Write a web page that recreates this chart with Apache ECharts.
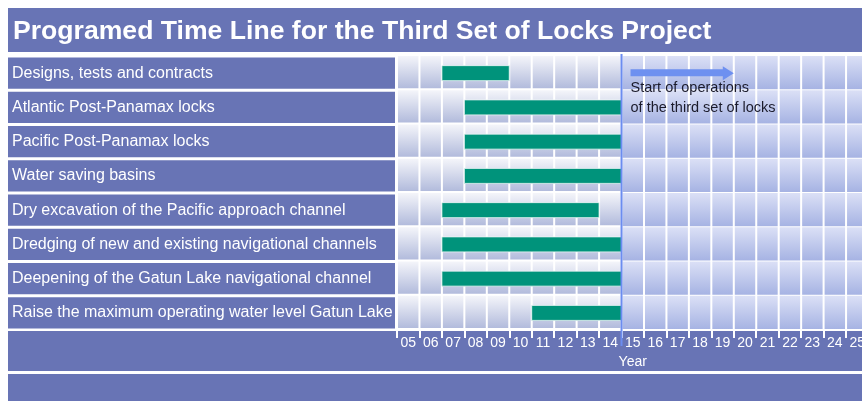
<!DOCTYPE html>
<html>
<head>
<meta charset="utf-8">
<script src="https://cdn.jsdelivr.net/npm/echarts@6.0.0/dist/echarts.min.js"></script>
<style>
html, body { margin: 0; padding: 0; background: #fff; }
#chart { width: 862px; height: 401px; }
</style>
</head>
<body>
<div id="chart"></div>
<script>
// Tasks and their programmed years (two-digit years, inclusive)
const tasks = [
    'Designs, tests and contracts',
    'Atlantic Post-Panamax locks',
    'Pacific Post-Panamax locks',
    'Water saving basins',
    'Dry excavation of the Pacific approach channel',
    'Dredging of new and existing navigational channels',
    'Deepening of the Gatun Lake navigational channel',
    'Raise the maximum operating water level Gatun Lake'
];
const years = ['05', '06', '07', '08', '09', '10', '11', '12', '13', '14', '15',
    '16', '17', '18', '19', '20', '21', '22', '23', '24', '25'];
const taskStart = ['07', '08', '08', '08', '07', '07', '07', '11'];
const taskEnd = ['09', '14', '14', '14', '13', '14', '14', '14'];

const opsStart = '15';
const arrowEnd = '20';
const note = ['Start of operations', 'of the third set of locks'];

const band = '#6874b5';
const font = 'Liberation Sans, Arial, sans-serif';
const opsIdx = years.indexOf(opsStart);

const chart = echarts.init(document.getElementById('chart'));

let cellData = [];
years.forEach((y, i) => tasks.forEach((t, j) => cellData.push([i, j])));
let barData = tasks.map((t, j) => [years.indexOf(taskStart[j]), years.indexOf(taskEnd[j]), j]);

function renderCell(params, api) {
    const c = api.coord([api.value(0), api.value(1)]);
    const s = api.size([1, 1]);
    const future = api.value(0) >= opsIdx;
    const gapY = future ? 1 : 2;
    const colors = future ? ['#dbe0f6', '#a6b3e3'] : ['#f4f5fa', '#b2bbdc'];
    return {
        type: 'rect',
        shape: { x: c[0] - s[0] / 2 + 1, y: c[1] - s[1] / 2, width: s[0] - 2, height: s[1] - gapY },
        style: {
            fill: new echarts.graphic.LinearGradient(0, 0, 0, 1, [
                { offset: 0, color: colors[0] },
                { offset: 1, color: colors[1] }
            ])
        }
    };
}

function renderBar(params, api) {
    const a = api.coord([api.value(0), api.value(2)]);
    const b = api.coord([api.value(1), api.value(2)]);
    const s = api.size([1, 1]);
    const h = 15;
    return {
        type: 'rect',
        shape: { x: a[0] - s[0] / 2, y: a[1] - h / 2, width: b[0] - a[0] + s[0], height: h },
        style: { fill: '#00937b', stroke: 'rgba(235,245,245,0.8)', lineWidth: 1 }
    };
}

function renderNote(params, api) {
    const a = api.coord([api.value(0), 0]);
    const b = api.coord([api.value(1), 0]);
    const s = api.size([1, 1]);
    const cs = params.coordSys;
    const x0 = a[0] - s[0] / 2;
    const x1 = b[0] - s[0] / 2;
    const top = a[1] - s[1] / 2;
    return {
        type: 'group',
        children: [
            {
                type: 'line',
                shape: { x1: x0, y1: cs.y - 2, x2: x0, y2: cs.y + cs.height + 16 },
                style: { stroke: '#6b8cf0', lineWidth: 2 }
            },
            {
                type: 'polygon',
                shape: {
                    points: [
                        [x0 + 9, a[1] - 4], [x1 - 11, a[1] - 4], [x1 - 11, a[1] - 7],
                        [x1, a[1]], [x1 - 11, a[1] + 7], [x1 - 11, a[1] + 3], [x0 + 9, a[1] + 3]
                    ]
                },
                style: { fill: '#6e90f0' }
            },
            {
                type: 'text',
                style: {
                    text: note.join('\n'),
                    x: x0 + 9,
                    y: top + 22,
                    fill: '#1b1b2b',
                    fontSize: 14.5,
                    fontFamily: font,
                    lineHeight: 20,
                    verticalAlign: 'top',
                    align: 'left'
                }
            }
        ]
    };
}

const option = {
    animation: false,
    backgroundColor: '#fff',
    title: {
        text: 'Programed Time Line for the Third Set of Locks Project',
        left: 8,
        top: 13,
        textStyle: { color: '#fff', fontSize: 26.6, fontWeight: 'bold', fontFamily: font }
    },
    graphic: [
        { type: 'rect', left: 8, top: 8, z: -10, shape: { width: 860, height: 44 }, style: { fill: band } },
        { type: 'rect', left: 8, top: 331, z: -10, shape: { width: 860, height: 40 }, style: { fill: band } },
        { type: 'rect', left: 8, top: 374, z: -10, shape: { width: 860, height: 30 }, style: { fill: band } }
    ],
    grid: [
        { left: 8, top: 56, width: 387, height: 274, outerBoundsMode: 'none' },
        { left: 397, top: 56, width: 471.5, height: 274, outerBoundsMode: 'none' }
    ],
    xAxis: [
        { gridIndex: 0, type: 'value', min: 0, max: 1, show: false },
        {
            gridIndex: 1,
            type: 'category',
            data: years,
            boundaryGap: true,
            axisLine: { show: false },
            axisTick: { show: true, interval: 0, length: 8, lineStyle: { color: '#fff', width: 2 } },
            axisLabel: { interval: 0, color: '#fff', fontSize: 14, fontFamily: font, margin: 6 },
            splitLine: { show: false },
            name: 'Year',
            nameLocation: 'middle',
            nameGap: 23,
            nameTextStyle: { color: '#fff', fontSize: 14, fontFamily: font }
        }
    ],
    yAxis: [
        { gridIndex: 0, type: 'category', data: tasks, inverse: true, show: false },
        { gridIndex: 1, type: 'category', data: tasks, inverse: true, show: false }
    ],
    series: [
        {
            type: 'bar',
            xAxisIndex: 0,
            yAxisIndex: 0,
            data: tasks.map(() => 1),
            barCategoryGap: '9%',
            itemStyle: { color: band },
            silent: true,
            label: {
                show: true,
                position: 'insideLeft',
                distance: 4,
                formatter: '{b}',
                color: '#fff',
                fontSize: 16,
                fontFamily: font
            }
        },
        {
            type: 'custom',
            xAxisIndex: 1,
            yAxisIndex: 1,
            data: cellData,
            encode: { x: 0, y: 1 },
            renderItem: renderCell,
            silent: true,
            z: 1
        },
        {
            type: 'custom',
            xAxisIndex: 1,
            yAxisIndex: 1,
            data: barData,
            encode: { x: [0, 1], y: 2 },
            renderItem: renderBar,
            silent: true,
            z: 3
        },
        {
            type: 'custom',
            xAxisIndex: 1,
            yAxisIndex: 1,
            data: [[opsIdx, years.indexOf(arrowEnd)]],
            encode: { x: [0, 1] },
            renderItem: renderNote,
            clip: false,
            silent: true,
            z: 4
        }
    ]
};

chart.setOption(option);
</script>
</body>
</html>
